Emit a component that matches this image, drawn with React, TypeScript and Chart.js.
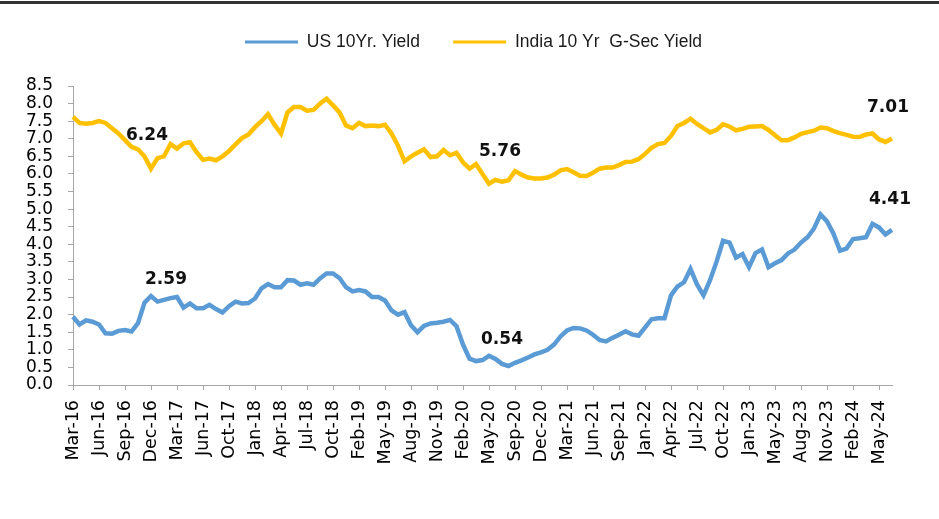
import React, { useEffect, useRef } from "react";
import { Chart, registerables } from "chart.js";

Chart.register(...registerables);

// Tick labels shown under the axis (one every 4 data points)
const tickLabels = [
  "Mar-16", "Jun-16", "Sep-16", "Dec-16", "Mar-17", "Jun-17", "Oct-17", "Jan-18",
  "Apr-18", "Jul-18", "Oct-18", "Feb-19", "May-19", "Aug-19", "Nov-19", "Feb-20",
  "May-20", "Sep-20", "Dec-20", "Mar-21", "Jun-21", "Sep-21", "Jan-22", "Apr-22",
  "Jul-22", "Oct-22", "Jan-23", "May-23", "Aug-23", "Nov-23", "Feb-24", "May-24",
];
const POINTS_PER_TICK = 4;

const seriesNames = ["US 10Yr. Yield", "India 10 Yr  G-Sec Yield"];

const usYield = [
  1.94, 1.72, 1.84, 1.80, 1.72, 1.47, 1.46, 1.54, 1.56, 1.52,
  1.76, 2.34, 2.53, 2.37, 2.42, 2.47, 2.50, 2.20, 2.32, 2.18,
  2.18, 2.28, 2.16, 2.06, 2.24, 2.37, 2.32, 2.33, 2.46, 2.75,
  2.87, 2.78, 2.78, 2.98, 2.97, 2.85, 2.89, 2.85, 3.03, 3.17,
  3.17, 3.04, 2.78, 2.66, 2.70, 2.66, 2.50, 2.50, 2.40, 2.12,
  2.00, 2.07, 1.70, 1.50, 1.68, 1.75, 1.77, 1.80, 1.85, 1.67,
  1.15, 0.75, 0.68, 0.71, 0.83, 0.74, 0.60, 0.54, 0.63, 0.70,
  0.78, 0.87, 0.93, 1.00, 1.15, 1.38, 1.55, 1.62, 1.61, 1.55,
  1.43, 1.28, 1.24, 1.34, 1.43, 1.53, 1.44, 1.40, 1.63, 1.87,
  1.90, 1.90, 2.55, 2.80, 2.92, 3.30, 2.86, 2.55, 2.98, 3.50,
  4.10, 4.05, 3.62, 3.72, 3.35, 3.75, 3.85, 3.35, 3.46, 3.55,
  3.74, 3.85, 4.05, 4.20, 4.45, 4.85, 4.65, 4.30, 3.82, 3.88,
  4.15, 4.17, 4.20, 4.58, 4.48, 4.28, 4.41,
];

const indiaYield = [
  7.62, 7.45, 7.43, 7.45, 7.50, 7.45, 7.30, 7.15, 6.96, 6.77,
  6.70, 6.50, 6.15, 6.45, 6.50, 6.85, 6.72, 6.87, 6.90, 6.62,
  6.40, 6.44, 6.39, 6.50, 6.65, 6.84, 7.02, 7.12, 7.33, 7.50,
  7.70, 7.40, 7.15, 7.75, 7.90, 7.90, 7.80, 7.82, 8.00, 8.14,
  7.95, 7.75, 7.38, 7.30, 7.45, 7.36, 7.38, 7.36, 7.40, 7.15,
  6.80, 6.36, 6.50, 6.60, 6.70, 6.48, 6.50, 6.68, 6.53, 6.60,
  6.33, 6.15, 6.28, 6.00, 5.72, 5.83, 5.78, 5.82, 6.08, 5.98,
  5.90, 5.87, 5.87, 5.90, 5.98, 6.10, 6.14, 6.05, 5.95, 5.94,
  6.03, 6.15, 6.18, 6.18, 6.25, 6.34, 6.35, 6.42, 6.57, 6.74,
  6.85, 6.88, 7.08, 7.36, 7.45, 7.57, 7.42, 7.30, 7.18, 7.25,
  7.41, 7.35, 7.24, 7.28, 7.34, 7.35, 7.36, 7.25, 7.10, 6.96,
  6.96, 7.04, 7.14, 7.19, 7.23, 7.32, 7.30, 7.22, 7.16, 7.11,
  7.06, 7.05, 7.12, 7.15, 6.98, 6.91, 7.01,
];

// Annotated values (text + point index they sit over)
const usLabelIndex = [14, 66, 126];
const usLabelText = ["2.59", "0.54", "4.41"];
const indiaLabelIndex = [12, 66, 126];
const indiaLabelText = ["6.24", "5.76", "7.01"];

const categories = usYield.map((_, i) =>
  i % POINTS_PER_TICK === 0 ? tickLabels[i / POINTS_PER_TICK] ?? "" : ""
);

// label offsets (styling only)
const usLabelOffsets = [
  { dx: 2, dy: -20 },
  { dx: 0, dy: -24 },
  { dx: -2, dy: -30 },
];
const indiaLabelOffsets = [
  { dx: -4, dy: -33 },
  { dx: -2, dy: -30 },
  { dx: -4, dy: -31 },
];

const pointLabelPlugin = {
  id: "pointLabels",
  afterDatasetsDraw(chart: any, _args: any, opts: any) {
    const { ctx } = chart;
    const xs = chart.scales.x;
    const ys = chart.scales.y;
    ctx.save();
    ctx.font = opts.font;
    ctx.fillStyle = opts.color;
    ctx.textAlign = "center";
    ctx.textBaseline = "middle";
    (opts.items || []).forEach((it: any) => {
      const v = chart.data.datasets[it.dataset].data[it.index];
      ctx.fillText(
        it.text,
        xs.getPixelForValue(it.index) + it.dx,
        ys.getPixelForValue(v) + it.dy
      );
    });
    ctx.restore();
  },
};

const AXIS_GRAY = "#a6a6a6";

export default function App() {
  const canvasRef = useRef<HTMLCanvasElement | null>(null);

  useEffect(() => {
    if (!canvasRef.current) return;
    Chart.defaults.font.family = "'DejaVu Sans', sans-serif";

    const items = [
      ...usLabelIndex.map((idx, k) => ({
        dataset: 0, index: idx, text: usLabelText[k], ...usLabelOffsets[k],
      })),
      ...indiaLabelIndex.map((idx, k) => ({
        dataset: 1, index: idx, text: indiaLabelText[k], ...indiaLabelOffsets[k],
      })),
    ];

    const chart = new Chart(canvasRef.current, {
      type: "line",
      data: {
        labels: categories,
        datasets: [
          {
            label: seriesNames[0],
            data: usYield,
            borderColor: "#5B9BD5",
            backgroundColor: "#5B9BD5",
            borderWidth: 4.5,
            pointRadius: 0,
            tension: 0,
          },
          {
            label: seriesNames[1],
            data: indiaYield,
            borderColor: "#FFC000",
            backgroundColor: "#FFC000",
            borderWidth: 4.5,
            pointRadius: 0,
            tension: 0,
          },
        ],
      },
      options: {
        animation: false,
        responsive: false,
        devicePixelRatio: 1,
        layout: { padding: { left: 8, right: 0, top: 0, bottom: 0 } },
        plugins: {
          tooltip: { enabled: false },
          legend: {
            display: true,
            position: "top",
            weight: 3000,
            labels: {
              usePointStyle: true,
              pointStyle: "line",
              pointStyleWidth: 53,
              padding: 33.25,
              color: "#1a1a1a",
              font: { family: "'Liberation Sans', Arial, sans-serif", size: 17.5 },
              generateLabels: (c: any) =>
                (Chart.defaults.plugins.legend.labels as any)
                  .generateLabels(c)
                  .map((l: any) => ({ ...l, lineWidth: 3 })),
            },
          },
          // empty spacer between legend and plot
          title: {
            display: true,
            text: " ",
            position: "top",
            weight: 2000,
            font: { size: 10 },
            padding: { top: 0, bottom: 13.25 },
          },
          pointLabels: {
            font: "bold 17px 'DejaVu Sans', sans-serif",
            color: "#111",
            items,
          },
        } as any,
        scales: {
          x: {
            type: "category",
            offset: false,
            afterFit: (scale: any) => {
              scale.height = 134;
            },
            grid: {
              display: true,
              drawOnChartArea: false,
              drawTicks: true,
              tickLength: 5,
              tickColor: (ctx: any) =>
                ctx.index % POINTS_PER_TICK === 0 ? AXIS_GRAY : "rgba(0,0,0,0)",
            },
            border: { display: true, color: AXIS_GRAY, width: 1 },
            ticks: {
              autoSkip: false,
              maxRotation: 90,
              minRotation: 90,
              padding: 10,
              color: "#000",
              font: { size: 17.5 },
              callback: (_v: any, i: number) => categories[i],
            },
          },
          y: {
            type: "linear",
            position: "left",
            min: 0,
            max: 8.5,
            afterFit: (scale: any) => {
              scale.width = 65;
            },
            grid: {
              display: true,
              drawOnChartArea: false,
              drawTicks: true,
              tickLength: 5,
              tickColor: AXIS_GRAY,
            },
            border: { display: true, color: AXIS_GRAY, width: 1 },
            ticks: {
              stepSize: 0.5,
              autoSkip: false,
              padding: 15,
              color: "#000",
              font: { size: 17 },
              callback: (v: any) => Number(v).toFixed(1),
            },
          },
          // invisible right-hand spacer axis (keeps the plot narrower than the canvas)
          yRight: {
            type: "linear",
            position: "right",
            display: true,
            afterFit: (scale: any) => {
              scale.width = 47;
            },
            grid: { display: false, drawTicks: false },
            border: { display: false },
            ticks: { display: false },
          },
        },
      },
      plugins: [pointLabelPlugin],
    });

    return () => chart.destroy();
  }, []);

  return (
    <div
      style={{
        position: "fixed",
        left: 0,
        top: 0,
        width: 939,
        height: 519,
        background: "#fff",
        overflow: "hidden",
      }}
    >
      <div
        style={{
          position: "absolute",
          left: 0,
          top: 1,
          width: 939,
          height: 3,
          background: "#333",
        }}
      />
      <canvas
        ref={canvasRef}
        width={939}
        height={519}
        style={{ display: "block", width: 939, height: 519 }}
      />
    </div>
  );
}
